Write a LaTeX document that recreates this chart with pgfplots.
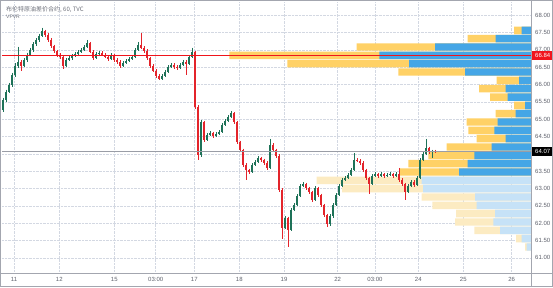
\documentclass[border=0pt]{standalone}
\usepackage{fontspec}
\setmainfont{Liberation Sans}
\newfontfamily\cjk{Noto Sans CJK SC}
\usepackage{pgfplots}
\usepackage{pgfplotstable}
\pgfplotsset{compat=1.18}
\definecolor{upc}{HTML}{1E7258}
\definecolor{dnc}{HTML}{E3242B}
\definecolor{ys}{HTML}{FFD166}
\definecolor{bs}{HTML}{45A6E6}
\definecolor{yl}{HTML}{FCEBC2}
\definecolor{bl}{HTML}{C6E2F7}
\definecolor{gridc}{HTML}{D3D8E2}
\definecolor{labc}{HTML}{5D606B}
\definecolor{titc}{HTML}{6E717B}
\definecolor{framec}{HTML}{A3A6AF}
\definecolor{pocred}{HTML}{F0141C}
\definecolor{lastc}{HTML}{9A9DA6}

\pgfplotstableread{
x o h l c
3 65.27 65.62 65.20 65.56
6 65.56 65.85 65.50 65.79
9 65.79 66.05 65.74 65.99
12 65.99 66.34 65.93 66.28
15 66.28 66.62 66.22 66.54
18 66.54 67.09 66.48 66.66
21 66.66 66.70 66.40 66.54
24 66.54 66.77 66.50 66.71
27 66.71 66.92 66.66 66.86
30 66.86 67.06 66.82 67.00
33 67.00 67.22 66.95 67.18
36 67.18 67.34 67.12 67.29
39 67.29 67.46 67.24 67.41
42 67.41 67.64 67.36 67.55
45 67.55 67.58 67.38 67.44
48 67.44 67.48 67.22 67.29
51 67.29 67.33 67.05 67.12
54 67.12 67.15 66.90 66.97
57 66.97 67.00 66.80 66.86
60 66.86 66.90 66.74 66.80
63 66.80 66.83 66.46 66.54
66 66.54 66.76 66.50 66.71
69 66.71 66.82 66.67 66.77
72 66.77 66.88 66.72 66.83
75 66.83 66.93 66.78 66.89
78 66.89 66.99 66.85 66.95
81 66.95 67.05 66.90 67.00
84 67.00 67.13 66.96 67.09
87 67.09 67.29 67.05 67.20
90 67.20 67.23 66.90 66.95
93 66.95 66.99 66.70 66.77
96 66.77 66.93 66.73 66.89
99 66.89 66.97 66.84 66.92
102 66.92 66.96 66.82 66.86
105 66.86 66.90 66.75 66.80
108 66.80 66.84 66.68 66.74
111 66.74 66.90 66.70 66.86
114 66.86 66.89 66.66 66.71
117 66.71 66.75 66.60 66.66
120 66.66 66.70 66.48 66.54
123 66.54 66.68 66.50 66.63
126 66.63 66.73 66.59 66.68
129 66.68 66.78 66.64 66.74
132 66.74 66.85 66.70 66.80
135 66.80 67.05 66.76 67.00
138 67.00 67.23 66.96 67.15
141 67.15 67.49 67.02 67.06
144 67.06 67.10 66.92 66.97
147 66.97 67.01 66.72 66.77
150 66.77 66.80 66.48 66.54
153 66.54 66.58 66.35 66.40
156 66.40 66.44 66.20 66.25
159 66.25 66.29 66.12 66.17
162 66.17 66.30 66.13 66.25
165 66.25 66.42 66.21 66.37
168 66.37 66.56 66.33 66.51
171 66.51 66.62 66.47 66.57
174 66.57 66.61 66.46 66.51
177 66.51 66.55 66.43 66.48
180 66.48 66.62 66.44 66.57
183 66.57 66.71 66.53 66.66
186 66.66 66.70 66.28 66.60
189 66.60 66.85 66.56 66.80
192 66.80 67.06 66.76 66.95
195 66.95 66.98 65.30 65.36
198 65.36 65.40 63.82 63.97
201 63.97 64.98 63.92 64.92
204 64.92 64.96 64.35 64.40
207 64.40 64.60 64.36 64.55
210 64.55 64.66 64.50 64.60
213 64.60 64.64 64.47 64.52
216 64.52 64.63 64.48 64.58
219 64.58 64.68 64.54 64.63
222 64.63 64.89 64.59 64.84
225 64.84 65.00 64.80 64.95
228 64.95 65.12 64.91 65.07
231 65.07 65.24 65.03 65.18
234 65.18 65.21 64.87 64.92
237 64.92 64.96 64.29 64.34
240 64.34 64.38 64.06 64.11
243 64.11 64.15 63.63 63.68
246 63.68 63.72 63.25 63.53
249 63.53 63.57 63.43 63.48
252 63.48 63.73 63.44 63.68
255 63.68 63.82 63.64 63.77
258 63.77 63.93 63.73 63.88
261 63.88 63.92 63.77 63.82
264 63.82 63.86 63.69 63.74
267 63.74 63.78 63.54 63.59
270 63.59 64.43 63.55 64.26
273 64.26 64.30 64.06 64.11
276 64.11 64.15 63.89 63.94
279 63.94 63.98 62.91 62.96
282 62.96 63.00 61.54 61.86
285 61.86 62.20 61.82 62.15
288 62.15 62.19 61.31 61.80
291 61.80 62.43 61.76 62.38
294 62.38 62.57 62.34 62.52
297 62.52 62.83 62.48 62.78
300 62.78 63.12 62.74 63.07
303 63.07 63.18 63.03 63.13
306 63.13 63.17 62.96 63.01
309 63.01 63.05 62.85 62.90
312 62.90 62.94 62.62 62.67
315 62.67 63.06 62.63 63.01
318 63.01 63.05 62.76 62.81
321 62.81 62.85 62.47 62.52
324 62.52 62.56 62.18 62.23
327 62.23 62.27 61.89 61.97
330 61.97 62.25 61.93 62.20
333 62.20 62.57 62.16 62.52
336 62.52 62.86 62.48 62.81
339 62.81 63.12 62.77 63.07
342 63.07 63.30 63.03 63.25
345 63.25 63.35 63.21 63.30
348 63.30 63.44 63.26 63.39
351 63.39 63.58 63.35 63.53
354 63.53 64.03 63.49 63.82
357 63.82 63.87 63.75 63.80
360 63.80 63.84 63.69 63.74
363 63.74 63.78 63.48 63.53
366 63.53 63.57 63.25 63.30
369 63.30 63.34 62.84 63.13
372 63.13 63.41 63.09 63.36
375 63.36 63.47 63.32 63.42
378 63.42 63.46 63.31 63.36
381 63.36 63.47 63.32 63.42
384 63.42 63.46 63.31 63.36
387 63.36 63.44 63.32 63.39
390 63.39 63.47 63.35 63.42
393 63.42 63.46 63.31 63.36
396 63.36 63.47 63.32 63.42
399 63.42 63.59 63.20 63.25
402 63.25 63.29 63.08 63.13
405 63.13 63.17 62.67 62.90
408 62.90 63.12 62.86 63.07
411 63.07 63.24 63.03 63.19
414 63.19 63.23 63.05 63.10
417 63.10 63.35 63.06 63.30
420 63.30 63.87 63.26 63.82
423 63.82 64.05 63.78 64.00
426 64.00 64.43 63.96 64.17
429 64.17 64.21 64.00 64.05
432 64.05 64.12 63.88 64.08
435 64.08 64.12 64.03 64.07
}\candles

\pgfplotsset{
  base/.style={at={(2pt,14pt)}, anchor=south west, scale only axis,
    width=529pt, height=271pt, ymin=60.56, ymax=68.38},
  candle/.style 2 args={draw=none, mark=none, forget plot,
    error bars/y dir=minus, error bars/y explicit, error bars/error mark=none,
    error bars/error bar style={draw=#1, solid, line width=#2}},
}
\tikzset{lab/.style={font=\fontsize{6}{7}\selectfont, text=labc}}

\begin{document}
\begin{tikzpicture}
\useasboundingbox (0,0) rectangle (553pt,287pt);

% ---- axis 1: grid and tick labels
\begin{axis}[base, xmin=2, xmax=531,
  axis line style={draw=none},
  major tick length=0pt,
  grid=major, grid style={densely dotted, draw=gridc, line width=0.5pt},
  xtick={14,59.3,114.3,155.7,194.3,239.3,284,337.7,375,418.3,463.3,511.7},
  xticklabels={11,12,15,03:00,17,18,19,22,03:00,24,25,26},
  ytick={61,61.5,62,62.5,63,63.5,64,64.5,65,65.5,66,66.5,67,67.5,68},
  yticklabels={61.00,61.50,62.00,62.50,63.00,63.50,,64.50,65.00,65.50,66.00,66.50,67.00,67.50,68.00},
  yticklabel pos=right,
  yticklabel style={lab, anchor=west, inner sep=0pt},
  yticklabel shift=4pt,
  xticklabel style={lab, anchor=north, inner sep=0pt},
  xticklabel shift=4pt,
  extra y ticks={64.07}, extra y tick labels={64.07},
  extra y tick style={grid=none, yticklabel shift=1pt,
    yticklabel style={fill=black, text=white, minimum width=21pt, minimum height=9pt, inner sep=0pt, anchor=west}},
]
\addplot[draw=none, forget plot] coordinates {(2,61) (531,68)};
\end{axis}

% ---- axis 2: volume profile (anchored at the right edge)
\begin{axis}[base, xmin=0, xmax=529, x dir=reverse, hide axis, xbar, bar width=0.215]
\addplot[bar shift=0pt, fill=ys, draw=none] coordinates {
(17,67.561) (63.3,67.321) (174.3,67.081) (301.7,66.840) (243.7,66.600) (132.7,66.360)
(34.3,66.118) (52,65.878) (41,65.638) (17,65.397) (35.3,65.157) (64.3,64.917)
(62.7,64.676) (54.3,64.436) (84.3,64.196) (102.7,63.955) (122.7,63.715) (131,63.475)};
\addplot[bar shift=0pt, fill=bs, draw=none] coordinates {
(9.3,67.561) (35.3,67.321) (96,67.081) (151.7,66.840) (122,66.600) (66,66.360)
(12,66.118) (25.3,65.878) (23.3,65.638) (6,65.397) (15.3,65.157) (33.3,64.917)
(36.7,64.676) (25.3,64.436) (39.3,64.196) (56.7,63.955) (63.3,63.715) (72,63.475)};
\addplot[bar shift=0pt, fill=yl, draw=none] coordinates {
(214.3,63.234) (189,62.994) (109.3,62.753) (98.7,62.513) (75,62.273) (76,62.032)
(56.7,61.792) (15,61.552) (6,61.311)};
\addplot[bar shift=0pt, fill=bl, draw=none] coordinates {
(109.3,63.234) (108,62.994) (56,62.753) (54.3,62.513) (36,62.273) (37.7,62.032)
(31,61.792) (9.3,61.552) (4.3,61.311)};
\end{axis}

% ---- axis 3: candles
\begin{axis}[base, xmin=2, xmax=531,
  axis line style={draw=none}, xtick=\empty, ytick=\empty,
  major tick length=0pt, grid=none,
  yticklabel pos=right,
  extra y ticks={66.84}, extra y tick labels={66.84},
  extra y tick style={grid=none, yticklabel shift=1pt,
    yticklabel style={lab, fill=pocred, text=white, minimum width=21pt, minimum height=9pt, inner sep=0pt, anchor=west}},
]
\addplot[candle={upc}{0.6pt}, restrict expr to domain={\thisrow{c}-\thisrow{o}}{0:100}]
  table[x=x, y=h, y error expr=\thisrow{h}-\thisrow{l}]{\candles};
\addplot[candle={dnc}{0.6pt}, restrict expr to domain={\thisrow{c}-\thisrow{o}}{-100:-0.001}]
  table[x=x, y=h, y error expr=\thisrow{h}-\thisrow{l}]{\candles};
\addplot[candle={upc}{1.9pt}, restrict expr to domain={\thisrow{c}-\thisrow{o}}{0:100}]
  table[x=x, y=c, y error expr=\thisrow{c}-\thisrow{o}]{\candles};
\addplot[candle={dnc}{1.9pt}, restrict expr to domain={\thisrow{c}-\thisrow{o}}{-100:-0.001}]
  table[x=x, y=o, y error expr=\thisrow{o}-\thisrow{c}]{\candles};
\end{axis}

% ---- axis 4: last price and POC lines
\begin{axis}[base, xmin=2, xmax=531, hide axis]
\addplot[draw=lastc, line width=0.5pt, mark=none] coordinates {(2,64.07) (531,64.07)};
\addplot[draw=pocred, line width=1.1pt, mark=none] coordinates {(2,66.84) (531,66.84)};
\end{axis}

% ---- frame
\draw[framec, line width=0.8pt] (0.4pt,0.4pt) rectangle (552.6pt,286.6pt);
\draw[framec, line width=0.8pt] (531pt,0pt) -- (531pt,287pt);
\draw[framec, line width=0.8pt] (0pt,14pt) -- (553pt,14pt);

% ---- title
\node[anchor=base west, inner sep=0pt, text=titc, font=\cjk\fontsize{6}{7}\selectfont] at (6pt,275.5pt) {布伦特原油差价合约, 60, TVC};
\node[anchor=base west, inner sep=0pt, text=titc, font=\fontsize{5}{6}\selectfont] at (6pt,268.5pt) {VPVR};
\end{tikzpicture}
\end{document}
